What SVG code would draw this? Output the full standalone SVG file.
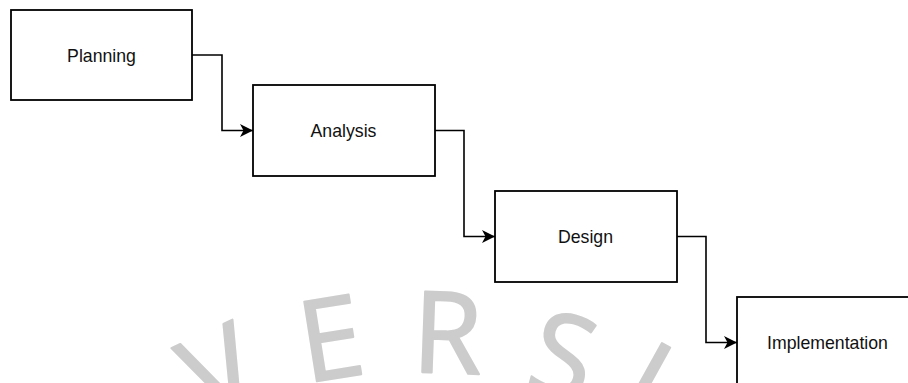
<svg xmlns="http://www.w3.org/2000/svg" width="908" height="383" viewBox="0 0 908 383">
  <style>
    .box { fill: #ffffff; stroke: #000000; stroke-width: 1.8; }
    .label { font-family: "Liberation Sans", Arial, sans-serif; font-size: 17.7px; fill: #111111; text-anchor: middle; }
    .edge { fill: none; stroke: #000000; stroke-width: 1.6; marker-end: url(#arrow); }
    .mark { font-family: "Open Sans", "DejaVu Sans", sans-serif; font-size: 113px; fill: #cccccc; stroke: #cccccc; stroke-width: 2; stroke-linejoin: round; text-anchor: middle; }
  </style>
  <defs>
    <marker id="arrow" markerUnits="userSpaceOnUse" markerWidth="16" markerHeight="16" viewBox="-14 -8 16 16" refX="0" refY="0" orient="auto">
      <path d="M0,0 L-13,-6.5 L-9.5,0 L-13,6.5 Z" fill="#000000"/>
    </marker>
  </defs>

  <rect width="908" height="383" fill="#ffffff"/>

  <!-- background lettering along an arc -->
  <g id="watermark">
    <text class="mark" transform="translate(236,407) rotate(-25)">V</text>
    <text class="mark" transform="translate(337,378) rotate(-9)">E</text>
    <text class="mark" transform="translate(446,373) rotate(2)">R</text>
    <text class="mark" transform="translate(553,394) rotate(15)">S</text>
    <text class="mark" transform="translate(627,416) rotate(29)">I</text>
  </g>

  <!-- connectors -->
  <g id="connectors">
    <path class="edge" d="M192,55 H222 V130.5 H253"/>
    <path class="edge" d="M435,130.5 H464 V236.5 H495"/>
    <path class="edge" d="M677,236.5 H706 V342.5 H737"/>
  </g>

  <!-- process steps -->
  <g id="planning">
    <rect class="box" x="11" y="10" width="181" height="90"/>
    <text class="label" x="101.5" y="61.5">Planning</text>
  </g>
  <g id="analysis">
    <rect class="box" x="253" y="85" width="182" height="91"/>
    <text class="label" x="343.5" y="137">Analysis</text>
  </g>
  <g id="design">
    <rect class="box" x="495" y="191" width="182" height="91"/>
    <text class="label" x="585.5" y="243">Design</text>
  </g>
  <g id="implementation">
    <rect class="box" x="737" y="297" width="182" height="91"/>
    <text class="label" x="827.5" y="349">Implementation</text>
  </g>
</svg>
